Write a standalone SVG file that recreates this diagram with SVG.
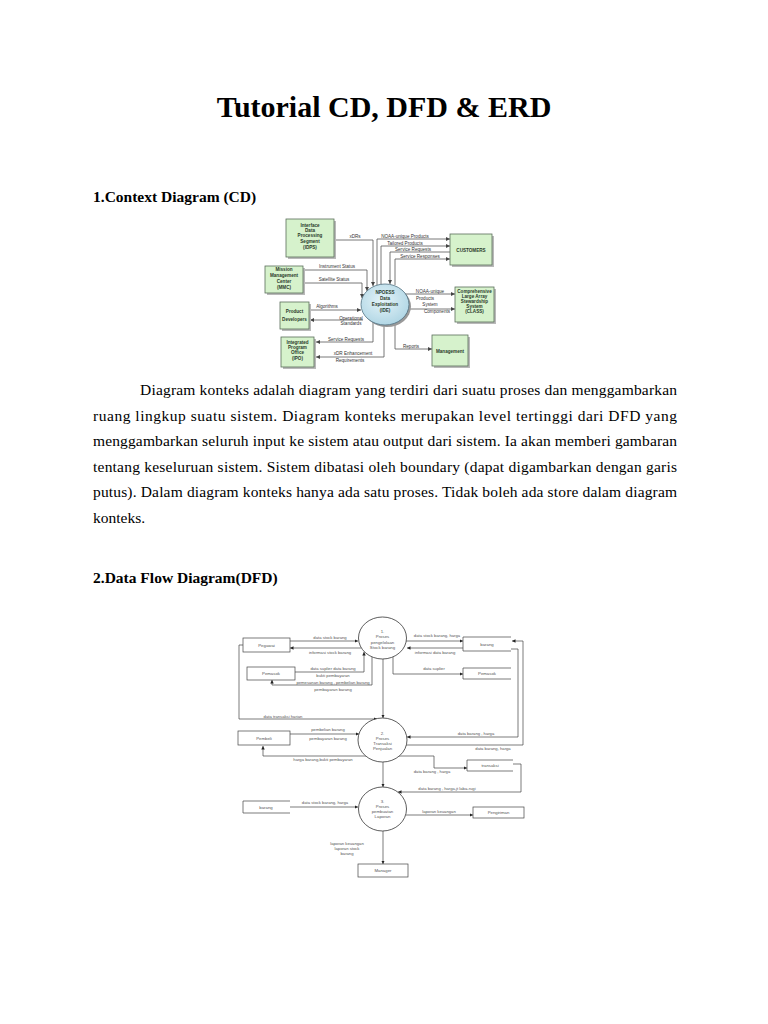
<svg xmlns="http://www.w3.org/2000/svg" width="768" height="1024" viewBox="0 0 768 1024">
<style>
.doc{font-family:"Liberation Serif","Times New Roman",serif;fill:#000}
.cdbox{fill:#d6f2cc;stroke:#5a6e5a;stroke-width:0.8}
.shadow{fill:#b9b9b9}
.cdt{font-family:"Liberation Sans",Arial,sans-serif;font-size:4.6px;font-weight:bold;fill:#2a3a2a;text-anchor:middle}
.cdl{font-family:"Liberation Sans",Arial,sans-serif;font-size:4.6px;fill:#333;text-anchor:middle}
.cdline{fill:none;stroke:#555;stroke-width:0.8}
.dfdbox{fill:#fff;stroke:#444;stroke-width:0.7}
.store{fill:none;stroke:#444;stroke-width:0.7}
.proc{fill:#fff;stroke:#333;stroke-width:0.8}
.dt{font-family:"Liberation Sans",Arial,sans-serif;font-size:4.3px;fill:#555;text-anchor:middle}
.dl{font-family:"Liberation Sans",Arial,sans-serif;font-size:4.2px;fill:#555;text-anchor:middle}
.dline{fill:none;stroke:#444;stroke-width:0.7}
</style>
<defs>
<marker id="ca" viewBox="0 0 10 10" refX="10" refY="5" markerWidth="4" markerHeight="4" orient="auto" markerUnits="userSpaceOnUse"><path d="M0,0 L10,5 L0,10 z" fill="#444"/></marker>
<marker id="da" viewBox="0 0 10 10" refX="10" refY="5" markerWidth="3.5" markerHeight="3.5" orient="auto" markerUnits="userSpaceOnUse"><path d="M0,0 L10,5 L0,10 z" fill="#222"/></marker>
<radialGradient id="eg" cx="0.45" cy="0.4" r="0.7"><stop offset="0" stop-color="#e4f3f8"/><stop offset="1" stop-color="#a9d2e2"/></radialGradient>
</defs>
<rect width="768" height="1024" fill="#fff"/>

<g id="page-text">
<text class="doc" x="384" y="117" text-anchor="middle" font-size="30" font-weight="bold">Tutorial CD, DFD &amp; ERD</text>
<text class="doc" x="93" y="202" font-size="15.5" font-weight="bold">1.Context Diagram (CD)</text>
<text class="doc" x="140" y="395" font-size="15.5" textLength="537" lengthAdjust="spacing">Diagram konteks adalah diagram yang terdiri dari suatu proses dan menggambarkan</text>
<text class="doc" x="93" y="420.5" font-size="15.5" textLength="584" lengthAdjust="spacing">ruang lingkup suatu sistem. Diagram konteks merupakan level tertinggi dari DFD yang</text>
<text class="doc" x="93" y="446" font-size="15.5" textLength="584" lengthAdjust="spacing">menggambarkan seluruh input ke sistem atau output dari sistem. Ia akan memberi gambaran</text>
<text class="doc" x="93" y="471.5" font-size="15.5" textLength="584" lengthAdjust="spacing">tentang keseluruan sistem. Sistem dibatasi oleh boundary (dapat digambarkan dengan garis</text>
<text class="doc" x="93" y="497" font-size="15.5" textLength="584" lengthAdjust="spacing">putus). Dalam diagram konteks hanya ada satu proses. Tidak boleh ada store dalam diagram</text>
<text class="doc" x="93" y="522.5" font-size="15.5">konteks.</text>
<text class="doc" x="93" y="583" font-size="15.5" font-weight="bold">2.Data Flow Diagram(DFD)</text>
</g>

<!-- Context diagram -->
<g id="cd-connectors">
<path class="cdline" d="M334 240 H373 V286" marker-end="url(#ca)"/>
<text class="cdl" x="355" y="238">xDRs</text>
<path class="cdline" d="M377 285 V239 H450" marker-end="url(#ca)"/>
<text class="cdl" x="405" y="237.5">NOAA-unique Products</text>
<path class="cdline" d="M381 285 V246 H450" marker-end="url(#ca)"/>
<text class="cdl" x="405" y="244.5">Tailored Products</text>
<path class="cdline" d="M450 252 H390 V284" marker-end="url(#ca)"/>
<text class="cdl" x="413" y="251">Service Requests</text>
<path class="cdline" d="M395 285 V259 H450" marker-end="url(#ca)"/>
<text class="cdl" x="420" y="257.5">Service Responses</text>
<path class="cdline" d="M304 270 H367 V291" marker-end="url(#ca)"/>
<text class="cdl" x="337" y="267.5">Instrument Status</text>
<path class="cdline" d="M304 283 H362 V298" marker-end="url(#ca)"/>
<text class="cdl" x="334" y="281">Satellite Status</text>
<path class="cdline" d="M310 310 H361" marker-end="url(#ca)"/>
<text class="cdl" x="327" y="308">Algorithms</text>
<path class="cdline" d="M363 320 H310" marker-end="url(#ca)"/>
<text class="cdl" x="351" y="319.5">Operational</text>
<text class="cdl" x="351" y="325">Standards</text>
<path class="cdline" d="M373 322 V342 H316" marker-end="url(#ca)"/>
<text class="cdl" x="346" y="340.5">Service Requests</text>
<path class="cdline" d="M384 325 V357 H316" marker-end="url(#ca)"/>
<text class="cdl" x="353" y="355">xDR Enhancement</text>
<text class="cdl" x="350" y="362">Requirements</text>
<path class="cdline" d="M395 323 V349 H432" marker-end="url(#ca)"/>
<text class="cdl" x="411" y="348">Reports</text>
<path class="cdline" d="M405 294 H455" marker-end="url(#ca)"/>
<text class="cdl" x="430" y="293">NOAA-unique</text>
<text class="cdl" x="425" y="299.5">Products</text>
<path class="cdline" d="M409 309 H455" marker-end="url(#ca)"/>
<text class="cdl" x="430" y="306">System</text>
<text class="cdl" x="437" y="312.5">Components</text>
</g>

<g id="cd-idps">
<rect class="shadow" x="288" y="221" width="48" height="38"/>
<rect class="cdbox" x="286" y="219" width="48" height="38"/>
<text class="cdt" x="310" y="226.5">Interface</text>
<text class="cdt" x="310" y="231.5">Data</text>
<text class="cdt" x="310" y="237">Processing</text>
<text class="cdt" x="310" y="243">Segment</text>
<text class="cdt" x="310" y="249">(IDPS)</text>
</g>
<g id="cd-mmc">
<rect class="shadow" x="267" y="268" width="38" height="27"/>
<rect class="cdbox" x="265" y="266" width="38" height="27"/>
<text class="cdt" x="284" y="271">Mission</text>
<text class="cdt" x="284" y="277">Management</text>
<text class="cdt" x="284" y="282.5">Center</text>
<text class="cdt" x="284" y="288.5">(MMC)</text>
</g>
<g id="cd-pd">
<rect class="shadow" x="282" y="304" width="29" height="27"/>
<rect class="cdbox" x="280" y="302" width="29" height="27"/>
<text class="cdt" x="294.5" y="313">Product</text>
<text class="cdt" x="294.5" y="320.5">Developers</text>
</g>
<g id="cd-ipo">
<rect class="shadow" x="283" y="339" width="33" height="30"/>
<rect class="cdbox" x="281" y="337" width="33" height="30"/>
<text class="cdt" x="297.5" y="343.5">Integrated</text>
<text class="cdt" x="297.5" y="348.5">Program</text>
<text class="cdt" x="297.5" y="354">Office</text>
<text class="cdt" x="297.5" y="360">(IPO)</text>
</g>
<g id="cd-ide">
<ellipse cx="387" cy="306.5" rx="24" ry="20.5" fill="#999"/>
<ellipse cx="385" cy="304.5" rx="24" ry="20.5" fill="url(#eg)" stroke="#4f6f7f" stroke-width="0.8"/>
<text class="cdt" x="385" y="293.5">NPOESS</text>
<text class="cdt" x="385" y="299.5">Data</text>
<text class="cdt" x="385" y="305.5">Exploitation</text>
<text class="cdt" x="385" y="311.5">(IDE)</text>
</g>
<g id="cd-customers">
<rect class="shadow" x="452" y="236" width="42" height="31"/>
<rect class="cdbox" x="450" y="234" width="42" height="31"/>
<text class="cdt" x="471" y="251.5" font-size="5">CUSTOMERS</text>
</g>
<g id="cd-class">
<rect class="shadow" x="457" y="289" width="39" height="35"/>
<rect class="cdbox" x="455" y="287" width="39" height="35"/>
<text class="cdt" x="474.5" y="292.5">Comprehensive</text>
<text class="cdt" x="474.5" y="297.5">Large Array</text>
<text class="cdt" x="474.5" y="302.5">Stewardship</text>
<text class="cdt" x="474.5" y="308">System</text>
<text class="cdt" x="474.5" y="313">(CLASS)</text>
</g>
<g id="cd-management">
<rect class="shadow" x="434" y="337" width="36" height="31"/>
<rect class="cdbox" x="432" y="335" width="36" height="31"/>
<text class="cdt" x="450" y="352.5">Management</text>
</g>

<!-- DFD -->
<g id="dfd-connectors">
<path class="dline" d="M290 641 H358" marker-end="url(#da)"/>
<text class="dl" x="330" y="639">data stock barang</text>
<path class="dline" d="M361 648 H290" marker-end="url(#da)"/>
<text class="dl" x="330" y="654">informasi stock barang</text>
<path class="dline" d="M295 672 H364 V652" marker-end="url(#da)"/>
<text class="dl" x="333" y="670">data suplier data barang</text>
<text class="dl" x="333" y="677">bukti pembayaran</text>
<path class="dline" d="M372 657 V685 H272 V680" marker-end="url(#da)"/>
<text class="dl" x="333" y="683.5">pemesanan barang , pembelian barang</text>
<text class="dl" x="333" y="691">pembayaran barang</text>
<path class="dline" d="M383 659 V718" marker-end="url(#da)"/>
<path class="dline" d="M243 645 H239 V719 H377" marker-end="url(#da)"/>
<text class="dl" x="283" y="717.5">data transaksi harian</text>
<path class="dline" d="M406 641 H463" marker-end="url(#da)"/>
<text class="dl" x="437" y="636.5">data stock barang, harga</text>
<path class="dline" d="M463 648 H407" marker-end="url(#da)"/>
<text class="dl" x="435" y="654">informasi data barang</text>
<path class="dline" d="M393 657 V674 H463" marker-end="url(#da)"/>
<text class="dl" x="434" y="670">data suplier</text>
<path class="dline" d="M511 649 H518 V737 H407" marker-end="url(#da)"/>
<text class="dl" x="476" y="735">data barang , harga</text>
<path class="dline" d="M406 745 H523 V641 H512" marker-end="url(#da)"/>
<text class="dl" x="493" y="750">data barang, harga</text>
<path class="dline" d="M290 734 H359" marker-end="url(#da)"/>
<text class="dl" x="328" y="731">pembelian barang</text>
<text class="dl" x="328" y="739.5">pembayaran barang</text>
<path class="dline" d="M366 756 H263 V746" marker-end="url(#da)"/>
<text class="dl" x="323" y="761">harga barang,bukti pembayaran</text>
<path class="dline" d="M399 756 H434 V768 H467" marker-end="url(#da)"/>
<text class="dl" x="432" y="772.5">data barang , harga</text>
<path class="dline" d="M513 764 H521 V792 H398" marker-end="url(#da)"/>
<text class="dl" x="447" y="790">data barang , harga,jt laba-rugi</text>
<path class="dline" d="M383 762 V787" marker-end="url(#da)"/>
<path class="dline" d="M290 807 H358" marker-end="url(#da)"/>
<text class="dl" x="325" y="804">data stock barang, harga</text>
<path class="dline" d="M406 815 H473" marker-end="url(#da)"/>
<text class="dl" x="439" y="813">laporan keuangan</text>
<path class="dline" d="M383 831 V864" marker-end="url(#da)"/>
<text class="dl" x="347" y="845" text-anchor="start">laporan keuangan</text>
<text class="dl" x="347" y="850" text-anchor="start">laporan stock</text>
<text class="dl" x="347" y="855" text-anchor="start">barang</text>
</g>

<g id="dfd-p1">
<ellipse class="proc" cx="382.5" cy="638" rx="24" ry="21"/>
<text class="dt" x="382.5" y="632.5">1.</text>
<text class="dt" x="382.5" y="638">Proses</text>
<text class="dt" x="382.5" y="643.5">pengelolaan</text>
<text class="dt" x="382.5" y="649">Stock barang</text>
</g>
<g id="dfd-p2">
<ellipse class="proc" cx="382.5" cy="740" rx="24.5" ry="22"/>
<text class="dt" x="382.5" y="734.5">2.</text>
<text class="dt" x="382.5" y="739.5">Proses</text>
<text class="dt" x="382.5" y="744.5">Transaksi</text>
<text class="dt" x="382.5" y="749.5">Penjualan</text>
</g>
<g id="dfd-p3">
<ellipse class="proc" cx="382.5" cy="809" rx="24" ry="22"/>
<text class="dt" x="382.5" y="802.5">3.</text>
<text class="dt" x="382.5" y="807.5">Proses</text>
<text class="dt" x="382.5" y="812.5">pembuatan</text>
<text class="dt" x="382.5" y="817.5">Laporan</text>
</g>
<g id="dfd-pegawai">
<rect class="dfdbox" x="243" y="638" width="47" height="14"/>
<text class="dt" x="266.5" y="646.5">Pegawai</text>
</g>
<g id="dfd-pemasok-entity">
<rect class="dfdbox" x="247" y="667" width="48" height="13"/>
<text class="dt" x="271" y="675">Pemasok</text>
</g>
<g id="dfd-pembeli">
<rect class="dfdbox" x="238" y="731" width="52" height="14"/>
<text class="dt" x="264" y="739.5">Pembeli</text>
</g>
<g id="dfd-barang-store">
<path class="store" d="M511 637 H463 V651 H511"/>
<text class="dt" x="487" y="645.5">barang</text>
</g>
<g id="dfd-pemasok-store">
<path class="store" d="M511 668 H463 V679 H511"/>
<text class="dt" x="487" y="675">Pemasok</text>
</g>
<g id="dfd-transaksi-store">
<path class="store" d="M513 760 H467 V771 H513"/>
<text class="dt" x="490" y="767">transaksi</text>
</g>
<g id="dfd-barang-left">
<path class="store" d="M290 801 H243 V813 H290"/>
<text class="dt" x="266" y="808.5">barang</text>
</g>
<g id="dfd-pengiriman">
<rect class="dfdbox" x="473" y="807" width="51" height="11"/>
<text class="dt" x="498.5" y="814">Pengiriman</text>
</g>
<g id="dfd-manager">
<rect class="dfdbox" x="358" y="864" width="50" height="13"/>
<text class="dt" x="383" y="872">Manager</text>
</g>
</svg>
